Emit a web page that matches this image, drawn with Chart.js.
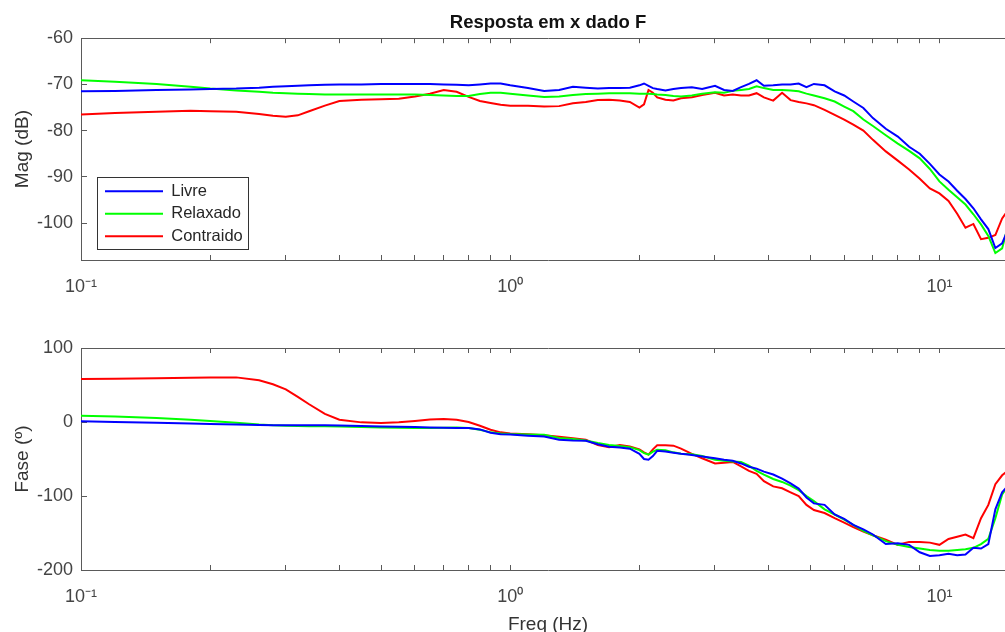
<!DOCTYPE html>
<html>
<head>
<meta charset="utf-8">
<script src="https://cdn.jsdelivr.net/npm/chart.js@4.4.1/dist/chart.umd.min.js"></script>
<style>
  html, body { margin: 0; padding: 0; background: #fff; overflow: hidden; }
  #magBox { position: absolute; left: 0; top: 0; width: 1015px; height: 320px; }
  #phaseBox { position: absolute; left: 0; top: 320px; width: 1015px; height: 330px; }
</style>
</head>
<body>
<div id="magBox"><canvas id="magChart" width="1015" height="320"></canvas></div>
<div id="phaseBox"><canvas id="phaseChart" width="1015" height="330"></canvas></div>
<script>
// frequencies (Hz)
const freq = [
  0.1, 0.12, 0.15, 0.18, 0.2, 0.23, 0.26, 0.28, 0.3, 0.32,
  0.34, 0.37, 0.4, 0.45, 0.5, 0.55, 0.6, 0.65, 0.7, 0.75,
  0.8, 0.85, 0.9, 0.95, 1.0, 1.1, 1.2, 1.3, 1.4, 1.5,
  1.6, 1.7, 1.8, 1.9, 2.0, 2.05, 2.1, 2.15, 2.2, 2.3,
  2.4, 2.5, 2.65, 2.8, 3.0, 3.15, 3.3, 3.45, 3.6, 3.75,
  3.9, 4.1, 4.3, 4.5, 4.7, 4.9, 5.1, 5.4, 5.7, 6.0,
  6.3, 6.65, 7.0, 7.5, 8.0, 8.5, 9.0, 9.5, 10, 10.5,
  11, 11.5, 12, 12.5, 13, 13.5, 14, 14.5, 15
];

// magnitude (dB)
const magLivre = [
  -71.5, -71.4, -71.2, -71.1, -71.0, -70.9, -70.7, -70.5, -70.4, -70.3,
  -70.2, -70.1, -70.0, -70.0, -69.9, -69.9, -69.9, -69.9, -70.0, -70.1,
  -70.2, -70.0, -69.8, -69.8, -70.2, -70.8, -71.4, -71.2, -70.5, -70.7,
  -70.9, -70.8, -70.8, -70.7, -70.2, -69.8, -70.3, -70.8, -71.0, -71.3,
  -71.0, -70.8, -70.6, -71.0, -70.3, -71.2, -71.4, -70.6, -69.9, -69.1,
  -70.3, -70.2, -70.0, -70.0, -69.8, -70.6, -69.9, -70.2, -71.5, -72.4,
  -73.7, -75.1, -77.3, -79.6, -81.3, -83.5, -85.0, -87.2, -89.5, -91.0,
  -93.0, -94.8, -96.8, -99.2, -101.3, -105.4, -104.4, -101.0, -100.0
];
const magRelaxado = [
  -69.1, -69.4, -69.9, -70.5, -70.9, -71.3, -71.6, -71.8, -71.9, -72.0,
  -72.1, -72.2, -72.2, -72.2, -72.2, -72.2, -72.2, -72.3, -72.4, -72.5,
  -72.5, -72.1, -71.8, -71.8, -72.0, -72.4, -72.7, -72.6, -72.3, -72.1,
  -72.0, -71.9, -71.9, -71.9, -72.0, -72.0, -72.0, -72.1, -72.2, -72.3,
  -72.5, -72.6, -72.4, -72.0, -71.7, -71.8, -71.4, -71.2, -71.0, -70.4,
  -70.8, -71.2, -71.2, -71.3, -71.5, -72.0, -72.4, -73.0, -73.7, -74.8,
  -75.8, -77.6, -79.0, -81.0, -82.8, -84.4, -86.0, -88.3, -91.0, -92.8,
  -94.4, -96.0, -98.1, -100.3, -102.8, -106.5, -105.5, -100.0, -98.0
];
const magContraido = [
  -76.5, -76.2, -75.9, -75.7, -75.8, -75.9, -76.4, -76.8, -77.0, -76.7,
  -75.8, -74.6, -73.6, -73.3, -73.2, -73.1, -72.6, -72.0, -71.2, -71.6,
  -72.7, -73.6, -74.0, -74.4, -74.6, -74.6, -74.8, -74.7, -74.1, -73.8,
  -73.4, -73.3, -73.5, -73.8, -75.0, -74.3, -71.2, -71.8, -72.8, -73.3,
  -73.5, -73.0, -72.8, -72.3, -71.8, -72.4, -72.2, -72.4, -72.4, -71.9,
  -72.8, -73.5, -71.8, -73.4, -73.8, -74.1, -74.5, -75.5, -76.6, -77.6,
  -78.7, -80.0, -82.0, -84.5, -86.5, -88.4, -90.4, -92.5, -93.6, -95.2,
  -98.0, -101.0, -100.2, -103.5, -103.2, -102.6, -99.0, -97.0, -96.0
];

// phase (degrees)
const faseLivre = [
  1, 0, -1, -2, -2.7, -3.5, -4, -4.3, -4.5, -4.5,
  -4.5, -4.5, -4.6, -5.5, -6, -6.5, -6.8, -7.3, -7.7, -8,
  -8.2, -10, -14.5, -16.5, -17, -18.5, -19.5, -24, -25, -25.5,
  -30, -33.5, -34.5, -36, -43, -50, -51, -46, -39, -40,
  -41.5, -43, -44.5, -46.5, -49, -51, -52.5, -56, -60.5, -63,
  -67, -71, -76.5, -83, -90, -102, -110, -112, -125, -131,
  -139, -145, -152, -165, -164, -166, -176, -181, -180, -178,
  -180, -179, -170, -171, -165, -118, -95, -85, -75
];
const faseRelaxado = [
  8.5, 7.5, 5.5, 3, 1.5, -1, -3.5, -4.5, -5, -5.3,
  -5.6, -5.9, -6.2, -6.8, -7.3, -7.8, -8.1, -8, -7.7, -7.3,
  -8, -10.5, -14, -15.5, -16.2, -16.8, -17.2, -21.5, -23, -25,
  -28.5, -31, -32.5, -34, -38, -42, -44, -40, -37.5, -38,
  -41, -43, -43.5, -46, -51, -52.5, -53.5, -54, -59, -66,
  -71, -77, -81, -86, -92, -100, -107, -118, -125, -132,
  -139, -147, -153, -161, -166, -169, -171, -173, -174, -174,
  -173, -172, -170, -165, -158, -130, -98, -85, -75
];
const faseContraido = [
  58, 58.5, 59, 59.8, 60.3, 60.3, 56.5, 51, 44, 34,
  24, 11, 3, -0.5, -1.2, -0.5, 1.5, 3.5, 4, 3,
  0, -5, -10.5, -14, -15.5, -16.5, -18, -20, -22, -24,
  -31, -34, -31, -33, -37, -41, -44, -37, -31.5, -31.5,
  -32, -36, -43, -49, -56, -55, -54, -60, -66, -70,
  -80, -87, -89.5, -95, -100, -112, -119, -123, -130, -136,
  -142, -148, -153, -159, -166, -162, -162, -163, -166, -158,
  -155, -152, -157, -130, -112, -84, -72, -65, -60
];

const seriesNames = ['Livre', 'Relaxado', 'Contraido'];
const seriesColors = ['#0000ff', '#00ff00', '#ff0000'];
const decadeLabels = { '-1': '10\u207B\u00B9', '0': '10\u2070', '1': '10\u00B9' };
const magTicks = { min: -108, max: -60, step: 10 };
const faseTicks = { min: -200, max: 100, step: 100 };

Chart.defaults.font.family = "'Liberation Sans', Arial, Helvetica, sans-serif";
Chart.defaults.animation = false;

const axisGray = '#5a5a5a';
const tickText = '#444';

function toPoints(values) {
  return freq.map((f, i) => ({ x: f, y: values[i] }));
}

function makeDatasets(arrays) {
  return arrays.map((arr, i) => ({
    label: seriesNames[i],
    data: toPoints(arr),
    borderColor: seriesColors[i],
    backgroundColor: seriesColors[i],
    borderWidth: 2,
    pointRadius: 0,
    tension: 0
  }));
}

// keep only 1..9 x 10^n ticks (like MATLAB minor ticks)
function keepDecadeTicks(scale) {
  scale.ticks = scale.ticks.filter(t => {
    const e = Math.floor(Math.log10(t.value) + 1e-9);
    const s = t.value / Math.pow(10, e);
    return Math.abs(s - Math.round(s)) < 1e-6;
  });
}

function decadeLabel(v) {
  const e = Math.log10(v);
  const r = Math.round(e);
  if (Math.abs(e - r) < 1e-6 && decadeLabels[r] !== undefined) return decadeLabels[r];
  return '';
}

function xScales(bottomHeight, withTitle) {
  return {
    x: {
      type: 'logarithmic',
      position: 'bottom',
      min: 0.1,
      max: 15,
      afterBuildTicks: keepDecadeTicks,
      afterFit: s => { s.height = bottomHeight; },
      ticks: {
        callback: decadeLabel,
        autoSkip: false,
        maxRotation: 0,
        padding: 21,
        color: tickText,
        font: { size: 18 }
      },
      grid: { drawOnChartArea: false, tickLength: -5, color: axisGray },
      border: { color: axisGray, width: 1 },
      title: {
        display: withTitle,
        text: 'Freq (Hz)',
        color: '#333',
        font: { size: 19 },
        padding: { top: 0, bottom: 14 }
      }
    },
    xTop: {
      type: 'logarithmic',
      position: 'top',
      min: 0.1,
      max: 15,
      afterBuildTicks: keepDecadeTicks,
      afterFit: s => { s.height = 0; },
      ticks: { callback: () => '', autoSkip: false, maxRotation: 0, font: { size: 1 } },
      grid: { drawOnChartArea: false, tickLength: -5, color: axisGray },
      border: { color: axisGray, width: 1 }
    }
  };
}

function yScale(range, label) {
  return {
    type: 'linear',
    position: 'left',
    min: range.min,
    max: range.max,
    afterFit: s => { s.width = 81; },
    ticks: {
      stepSize: range.step,
      includeBounds: false,
      padding: 14,
      color: tickText,
      font: { size: 18 }
    },
    grid: { drawOnChartArea: false, tickLength: -6, color: axisGray },
    border: { color: axisGray, width: 1 },
    title: {
      display: true,
      text: label,
      color: '#333',
      font: { size: 19 },
      padding: { top: 11, bottom: 0 }
    }
  };
}

// moves the legend to the lower left corner and draws the MATLAB style frame
// (runs after the legend plugin's own afterUpdate, which places the hit boxes)
const legendFrame = {
  id: 'legendFrame',
  afterUpdate(chart) {
    const lg = chart.legend;
    if (!lg || !lg.options.display || !lg.legendHitBoxes || !lg.legendHitBoxes.length) return;
    const area = chart.chartArea;
    const first = lg.legendHitBoxes[0];
    const dx = area.left + 24 - first.left;
    const dy = area.bottom - 77 - first.top;
    lg.left += dx; lg.right += dx;
    lg.top += dy; lg.bottom += dy;
    lg.legendHitBoxes.forEach(h => { h.left += dx; h.top += dy; });
  },
  beforeDraw(chart) {
    const lg = chart.legend;
    if (!lg || !lg.options.display || !lg.legendHitBoxes || !lg.legendHitBoxes.length) return;
    const hb = lg.legendHitBoxes;
    const left = Math.min(...hb.map(h => h.left)) - 8;
    const right = Math.max(...hb.map(h => h.left + h.width)) + 5;
    const top = hb[0].top - 6;
    const last = hb[hb.length - 1];
    const bottom = last.top + last.height + 4;
    const ctx = chart.ctx;
    ctx.save();
    ctx.fillStyle = '#fff';
    ctx.fillRect(left, top, right - left, bottom - top);
    ctx.strokeStyle = '#333';
    ctx.lineWidth = 1;
    ctx.strokeRect(Math.round(left) + 0.5, Math.round(top) + 0.5, Math.round(right - left), Math.round(bottom - top));
    ctx.restore();
  }
};

new Chart(document.getElementById('magChart'), {
  type: 'line',
  data: { datasets: makeDatasets([magLivre, magRelaxado, magContraido]) },
  plugins: [legendFrame],
  options: {
    responsive: false,
    devicePixelRatio: 1,
    parsing: false,
    layout: { padding: 0 },
    plugins: {
      title: {
        display: true,
        text: 'Resposta em x dado F',
        fullSize: false,
        color: '#111',
        font: { size: 18.5, weight: 'bold' },
        padding: { top: 12, bottom: 4 }
      },
      legend: {
        position: 'chartArea',
        align: 'end',
        labels: {
          usePointStyle: true,
          pointStyle: 'line',
          pointStyleWidth: 58,
          padding: 6,
          color: '#262626',
          font: { size: 16.5 }
        }
      },
      tooltip: { enabled: false }
    },
    scales: Object.assign(xScales(60, false), { y: yScale(magTicks, 'Mag (dB)') })
  }
});

new Chart(document.getElementById('phaseChart'), {
  type: 'line',
  data: { datasets: makeDatasets([faseLivre, faseRelaxado, faseContraido]) },
  options: {
    responsive: false,
    devicePixelRatio: 1,
    parsing: false,
    layout: { padding: { top: 28, left: 0, right: 0, bottom: 0 } },
    plugins: {
      legend: { display: false },
      tooltip: { enabled: false }
    },
    scales: Object.assign(xScales(80, true), { y: yScale(faseTicks, 'Fase (\u00BA)') })
  }
});
</script>
</body>
</html>
